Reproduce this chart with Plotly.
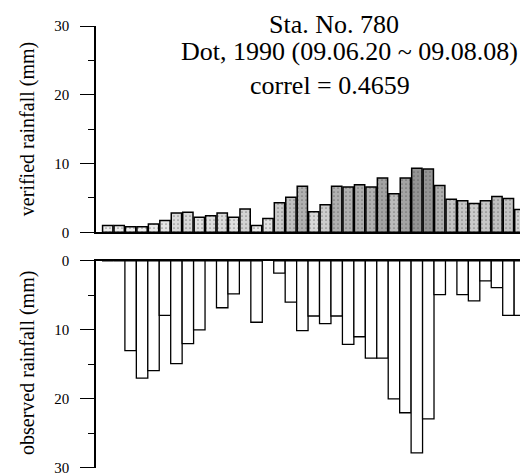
import plotly.graph_objects as go
from plotly.subplots import make_subplots

# daily series, 1990-06-20 .. 1990-08-08 (37 bars)
days = list(range(1, 38))
verified = [1.0, 1.0, 0.8, 0.8, 1.2, 1.7, 2.8, 2.9, 2.2, 2.4, 2.8, 2.2, 3.4, 1.0,
            2.0, 4.3, 5.1, 6.7, 3.0, 4.0, 6.7, 6.6, 6.9, 6.6, 7.9, 5.6, 7.9, 9.3,
            9.2, 6.8, 4.8, 4.6, 4.2, 4.6, 5.2, 4.9, 3.3]
observed = [0, 0, 13.0, 17.0, 15.9, 7.9, 14.9, 12.0, 10.0, 0, 6.8, 4.8, 0, 8.9,
            None, 1.8, 6.0, 10.1, 8.0, 9.1, 8.0, 12.1, 11.0, 14.1, 14.1, 20.0, 22.0,
            27.8, 22.9, 4.9, 0, 4.9, 5.8, 2.9, 3.9, 7.9, 7.9]
y_ticks = [0, 10, 20, 30]

FONT = "Liberation Serif"

fig = make_subplots(rows=2, cols=1, shared_xaxes=False, vertical_spacing=0.0)

fig.add_trace(go.Bar(
    x=days, y=verified,
    marker=dict(
        color=verified, colorscale=[[0, "#f8f8f8"], [1, "#8c8c8c"]], cmin=0, cmax=10,
        line=dict(color="black", width=1.5),
        pattern=dict(shape=".", fillmode="overlay", fgcolor="#303030", size=4, solidity=0.15),
    ),
    showlegend=False,
), row=1, col=1)

fig.add_trace(go.Bar(
    x=days, y=observed, width=1.0,
    marker=dict(color="white", line=dict(color="black", width=1.3)),
    showlegend=False,
), row=2, col=1)

yax = dict(
    tickvals=y_ticks, ticks="outside", ticklen=14, tickwidth=1.3, tickcolor="black",
    showline=True, linecolor="black", linewidth=1.5, showgrid=False, zeroline=False,
    minor=dict(ticks="outside", ticklen=6, dtick=5, tickcolor="black", tickwidth=1.2, showgrid=False),
    tickfont=dict(family=FONT, size=15, color="black"), ticklabelstandoff=8,
)
xax = dict(range=[-0.024, 37.71], showticklabels=False, ticks="", showgrid=False,
           zeroline=False, showline=True, linecolor="black", linewidth=1.5)

fig.update_layout(
    width=528, height=475,
    margin=dict(l=88, r=8, t=18, b=7),
    paper_bgcolor="white", plot_bgcolor="white",
    bargap=0.1,
    xaxis=dict(**xax),
    xaxis2=dict(**xax, side="top"),
    yaxis=dict(**yax, domain=[0.5333, 1.0], range=[0, 30]),
    yaxis2=dict(**yax, domain=[0.0, 0.4689], range=[30, 0]),
    font=dict(family=FONT, color="black"),
)

notes = [
    ("Sta. No. 780", 0.551, 1.004),
    ("Dot, 1990 (09.06.20 ~ 09.08.08)", 0.586, 0.942),
    ("correl = 0.4659", 0.542, 0.866),
]
for text, x, y in notes:
    fig.add_annotation(text=text, x=x, y=y, xref="paper", yref="paper",
                       xanchor="center", yanchor="middle", showarrow=False,
                       font=dict(family=FONT, size=26, color="black"))

for text, y in [("verified rainfall (mm)", 0.767), ("observed rainfall (mm)", 0.238)]:
    fig.add_annotation(text=text, x=-0.157, y=y, xref="paper", yref="paper",
                       xanchor="center", yanchor="middle", textangle=-90, showarrow=False,
                       font=dict(family=FONT, size=20, color="black"))

fig.write_html("out.html")
